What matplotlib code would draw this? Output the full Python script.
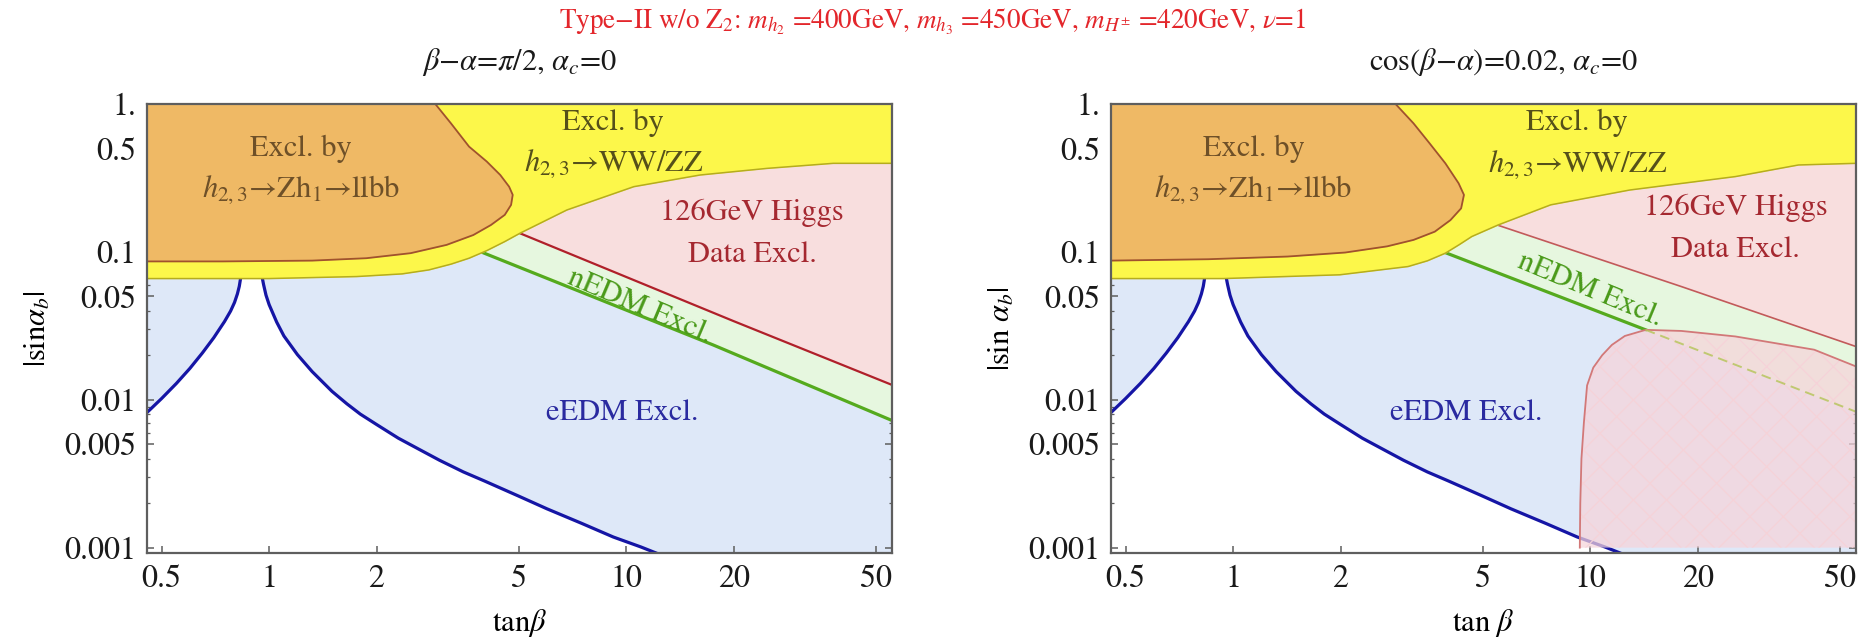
import matplotlib
matplotlib.use('Agg')
import matplotlib.pyplot as plt
from matplotlib.ticker import FixedLocator, FixedFormatter, LogLocator, NullLocator, NullFormatter

plt.rcParams['font.family'] = ['STIXGeneral', 'DejaVu Serif']
plt.rcParams['mathtext.fontset'] = 'stix'
plt.rcParams['hatch.linewidth'] = 0.8

# ---------------- data ----------------
XLIM = (0.455, 55.5)
YLIM = (0.00092, 1.0)
xticks = [0.5, 1, 2, 5, 10, 20, 50]
xticklabels = ['0.5', '1', '2', '5', '10', '20', '50']
yticks = [0.001, 0.005, 0.01, 0.05, 0.1, 0.5, 1.0]
yticklabels = ['0.001', '0.005', '0.01', '0.05', '0.1', '0.5', '1.']

# eEDM boundary (same in both panels): two branches around a pole near tan(beta)~0.9
eedm_left_x = [0.455, 0.50, 0.55, 0.60, 0.65, 0.70, 0.75, 0.78, 0.80, 0.815, 0.825, 0.835]
eedm_left_y = [0.0082, 0.0102, 0.0129, 0.0163, 0.0207, 0.0263, 0.0338, 0.0398, 0.0455, 0.0520,
               0.0585, 0.0700]
eedm_right_x = [0.953, 0.965, 0.98, 1.0, 1.05, 1.1, 1.2, 1.32, 1.5, 1.65, 1.8, 2.0, 2.3, 2.64,
                3.0, 3.5, 4.0, 5.0, 6.0, 7.5, 9.2, 11.0, 12.7]
eedm_right_y = [0.070, 0.060, 0.051, 0.044, 0.0335, 0.0270, 0.0202, 0.0155, 0.0114, 0.0094,
                0.0080, 0.0068, 0.0055, 0.0046, 0.0039, 0.00325, 0.00283, 0.00223, 0.00183,
                0.00146, 0.00118, 0.00101, 0.00088]

# Left panel (beta-alpha = pi/2)
L_orange_y = [0.0862, 0.0862, 0.0873, 0.0906, 0.098, 0.1115, 0.130, 0.152, 0.178, 0.208,
              0.243, 0.276, 0.331, 0.408, 0.515, 0.74, 1.0]
L_orange_x = [0.455, 0.74, 1.32, 1.87, 2.49, 3.14, 3.73, 4.18, 4.57, 4.76,
              4.81, 4.70, 4.44, 4.07, 3.63, 3.23, 2.92]
L_yellow_x = [0.455, 1.0, 1.76, 2.36, 2.80, 3.23, 3.63, 4.07, 4.57, 5.05, 6.82, 10.5, 16.1, 24.8, 38.0, 55.5]
L_yellow_y = [0.0660, 0.0660, 0.0681, 0.0710, 0.0755, 0.0826, 0.0906, 0.102, 0.1174, 0.134,
              0.192, 0.276, 0.331, 0.367, 0.397, 0.397]
L_nedm_x = [3.90, 17.5, 55.5]
L_nedm_y = [0.1005, 0.0235, 0.00724]
L_higgs_x = [4.95, 20.0, 55.5]
L_higgs_y = [0.1360, 0.0340, 0.0126]

# Right panel (cos(beta-alpha) = 0.02)
R_orange_y = [0.0873, 0.0892, 0.0930, 0.099, 0.109, 0.1205, 0.137, 0.164, 0.197, 0.243,
              0.291, 0.397, 0.542, 0.74, 1.0]
R_orange_x = [0.455, 0.852, 1.42, 2.06, 2.70, 3.20, 3.67, 4.06, 4.35, 4.43,
              4.28, 3.93, 3.55, 3.20, 2.85]
R_yellow_x = [0.455, 0.94, 1.99, 3.09, 3.50, 3.93, 4.30, 4.66, 5.52, 7.75, 12.9, 25.5, 38.3, 55.5]
R_yellow_y = [0.0660, 0.0660, 0.0700, 0.0796, 0.087, 0.098, 0.112, 0.127, 0.152, 0.208,
              0.262, 0.323, 0.387, 0.397]
R_nedm_x = [3.88, 14.3, 55.5]
R_nedm_y = [0.1000, 0.0297, 0.0083]
R_higgs_x = [5.40, 18.1, 55.5]
R_higgs_y = [0.1540, 0.0580, 0.0229]
R_blob_x = [9.35, 9.38, 9.45, 9.60, 9.80, 10.2, 10.8, 11.5, 12.5, 14.3, 18.0, 25.5, 42.4, 55.5]
R_blob_y = [0.0010, 0.0020, 0.0040, 0.0070, 0.0125, 0.0165, 0.0200, 0.0235, 0.0270, 0.0297,
            0.0292, 0.0268, 0.0218, 0.0168]
R_blob_bottom = 0.0010

# text label positions (data coords)
L_labels = dict(orange=(1.23, 0.50, 0.262), yellow=(9.2, 0.74, 0.397), higgs=(22.5, 0.183, 0.095),
                nedm=(10.9, 0.0427, -23.0), eedm=(9.72, 0.0081))
R_labels = dict(orange=(1.14, 0.50, 0.262), yellow=(9.2, 0.74, 0.387), higgs=(25.5, 0.198, 0.103),
                nedm=(10.0, 0.0554, -22.5), eedm=(4.5, 0.0081))

# ---------------- styles ----------------
C_BLUE_FILL = '#DEE8F8'
C_GREEN_FILL = '#E6F7DF'
C_PINK_FILL = '#F8DEDE'
C_YELLOW = '#FCF74A'
C_YELLOW_EDGE = '#B5AC1E'
C_ORANGE = '#EFB965'
C_ORANGE_EDGE = '#A0522D'
C_BLUE_LINE = '#1515A5'
C_GREEN_LINE = '#55AA1E'
C_RED_LINE = '#B0202A'
C_SPINE = '#5e5e5e'

FS_TICK = 23
FS_TXT = 22

fig = plt.figure(figsize=(18.76, 6.42), dpi=100)
W, H = 1876.0, 642.0
rects = [(147 / W, (H - 553) / H, 745 / W, 449 / H),
         (1111 / W, (H - 553) / H, 745 / W, 449 / H)]


def setup_axes(ax):
    ax.set_xscale('log')
    ax.set_yscale('log')
    ax.set_xlim(*XLIM)
    ax.set_ylim(*YLIM)
    ax.xaxis.set_major_locator(FixedLocator(xticks))
    ax.xaxis.set_major_formatter(FixedFormatter(xticklabels))
    ax.xaxis.set_minor_locator(NullLocator())
    ax.yaxis.set_major_locator(FixedLocator(yticks))
    ax.yaxis.set_major_formatter(FixedFormatter(yticklabels))
    ax.yaxis.set_minor_locator(LogLocator(base=10, subs=[2, 3, 4, 6, 7, 8, 9]))
    ax.yaxis.set_minor_formatter(NullFormatter())
    ax.tick_params(which='both', direction='in', top=True, right=True, color=C_SPINE,
                   labelsize=FS_TICK, labelcolor='#1a1a1a')
    ax.tick_params(which='major', length=5, width=1.1, pad=8)
    ax.tick_params(which='minor', length=2.5, width=0.9)
    for s in ax.spines.values():
        s.set_color(C_SPINE)
        s.set_linewidth(1.6)
        s.set_zorder(20)
    ax.set_facecolor(C_BLUE_FILL)


def draw_panel(ax, orange_x, orange_y, yellow_x, yellow_y, nedm_x, nedm_y, higgs_x, higgs_y,
               labels, red_lw, red_color, blob=None):
    setup_axes(ax)
    # white allowed region below the eEDM curve
    ex = eedm_left_x + eedm_right_x
    ey = eedm_left_y + eedm_right_y
    ax.fill_between(ex, YLIM[0] * 0.5, ey, color='white', lw=0, zorder=1)
    ax.plot(eedm_left_x, eedm_left_y, color=C_BLUE_LINE, lw=2.3, zorder=2, solid_capstyle='butt',
            solid_joinstyle='round')
    ax.plot(eedm_right_x, eedm_right_y, color=C_BLUE_LINE, lw=2.3, zorder=2, solid_capstyle='butt',
            solid_joinstyle='round')
    # nEDM
    ax.fill_between(nedm_x, nedm_y, YLIM[1], color=C_GREEN_FILL, lw=0, zorder=3)
    if blob is None:
        ax.plot(nedm_x, nedm_y, color=C_GREEN_LINE, lw=2.3, zorder=4)
    else:
        ax.plot(nedm_x[:2], nedm_y[:2], color=C_GREEN_LINE, lw=2.3, zorder=4)
    # 126 GeV Higgs data
    ax.fill_between(higgs_x, higgs_y, YLIM[1], color=C_PINK_FILL, lw=0, zorder=5)
    ax.plot(higgs_x, higgs_y, color=red_color, lw=red_lw, zorder=6)
    if blob is not None:
        bx, by, bb = blob
        ax.fill_between(bx, bb, by, facecolor='#F6D4DA', alpha=0.72, lw=0, zorder=7)
        ax.fill_between(bx, bb, by, facecolor='none', edgecolor='#F6D2D8', hatch='x', lw=0, zorder=7.5)
        ax.plot(bx, by, color='#D27878', lw=1.3, zorder=8)
        ax.plot(nedm_x[1:], nedm_y[1:], color='#B4C456', lw=1.4, ls=(0, (5, 3)), alpha=0.8, zorder=8)
    # WW/ZZ
    ax.fill_between(yellow_x, yellow_y, YLIM[1], color=C_YELLOW, lw=0, zorder=9)
    ax.plot(yellow_x, yellow_y, color=C_YELLOW_EDGE, lw=1.1, zorder=10)
    # Zh -> llbb
    ax.fill_betweenx(orange_y, XLIM[0], orange_x, color=C_ORANGE, lw=0, zorder=11)
    ax.plot(orange_x, orange_y, color=C_ORANGE_EDGE, lw=1.3, zorder=12)

    ox, oy1, oy2 = labels['orange']
    ax.text(ox, oy1, 'Excl. by', color='#6E5028', fontsize=FS_TXT, ha='center', va='center', zorder=15)
    ax.text(ox, oy2, r'$h_{2,3}$→Zh$_1$→llbb', color='#6E5028', fontsize=FS_TXT,
            ha='center', va='center', zorder=15)
    yx, yy1, yy2 = labels['yellow']
    ax.text(yx, yy1, 'Excl. by', color='#55501A', fontsize=FS_TXT, ha='center', va='center', zorder=15)
    ax.text(yx, yy2, r'$h_{2,3}$→WW/ZZ', color='#55501A', fontsize=FS_TXT,
            ha='center', va='center', zorder=15)
    hx, hy1, hy2 = labels['higgs']
    ax.text(hx, hy1, '126GeV Higgs', color='#A52830', fontsize=FS_TXT, ha='center', va='center', zorder=15)
    ax.text(hx, hy2, 'Data Excl.', color='#A52830', fontsize=FS_TXT, ha='center', va='center', zorder=15)
    nx, ny, nr = labels['nedm']
    ax.text(nx, ny, 'nEDM Excl.', color='#4A9A1A', fontsize=FS_TXT, ha='center', va='center',
            rotation=nr, rotation_mode='anchor', zorder=15)
    exx, eyy = labels['eedm']
    ax.text(exx, eyy, 'eEDM Excl.', color='#2A2AA0', fontsize=FS_TXT, ha='center', va='center', zorder=15)


axL = fig.add_axes(rects[0])
draw_panel(axL, L_orange_x, L_orange_y, L_yellow_x, L_yellow_y, L_nedm_x, L_nedm_y,
           L_higgs_x, L_higgs_y, L_labels, 1.6, C_RED_LINE)
axL.set_xlabel(r'tan$\beta$', fontsize=FS_TXT, labelpad=10)
axL.set_ylabel(r'|sin$\alpha_b$|', fontsize=FS_TXT, labelpad=8)

axR = fig.add_axes(rects[1])
draw_panel(axR, R_orange_x, R_orange_y, R_yellow_x, R_yellow_y, R_nedm_x, R_nedm_y,
           R_higgs_x, R_higgs_y, R_labels, 1.2, '#C25A5A',
           blob=(R_blob_x, R_blob_y, R_blob_bottom))
axR.set_xlabel(r'tan $\beta$', fontsize=FS_TXT, labelpad=10)
axR.set_ylabel(r'|sin $\alpha_b$|', fontsize=FS_TXT, labelpad=8)

fig.text(519 / W, 1 - 62 / H, r'$\beta$−$\alpha$=$\pi$/2, $\alpha_c$=0', fontsize=FS_TXT,
         ha='center', va='center', color='#1a1a1a')
fig.text(1503 / W, 1 - 62 / H, r'cos($\beta$−$\alpha$)=0.02, $\alpha_c$=0', fontsize=FS_TXT,
         ha='center', va='center', color='#1a1a1a')
fig.text(933 / W, 1 - 22 / H,
         r'Type−II w/o Z$_2$: $m_{h_2}$ =400GeV, $m_{h_3}$ =450GeV, $m_{H^{\pm}}$ =420GeV, $\nu$=1',
         fontsize=19.5, ha='center', va='center', color='#E3262B')

fig.savefig('out.png', dpi=100)
